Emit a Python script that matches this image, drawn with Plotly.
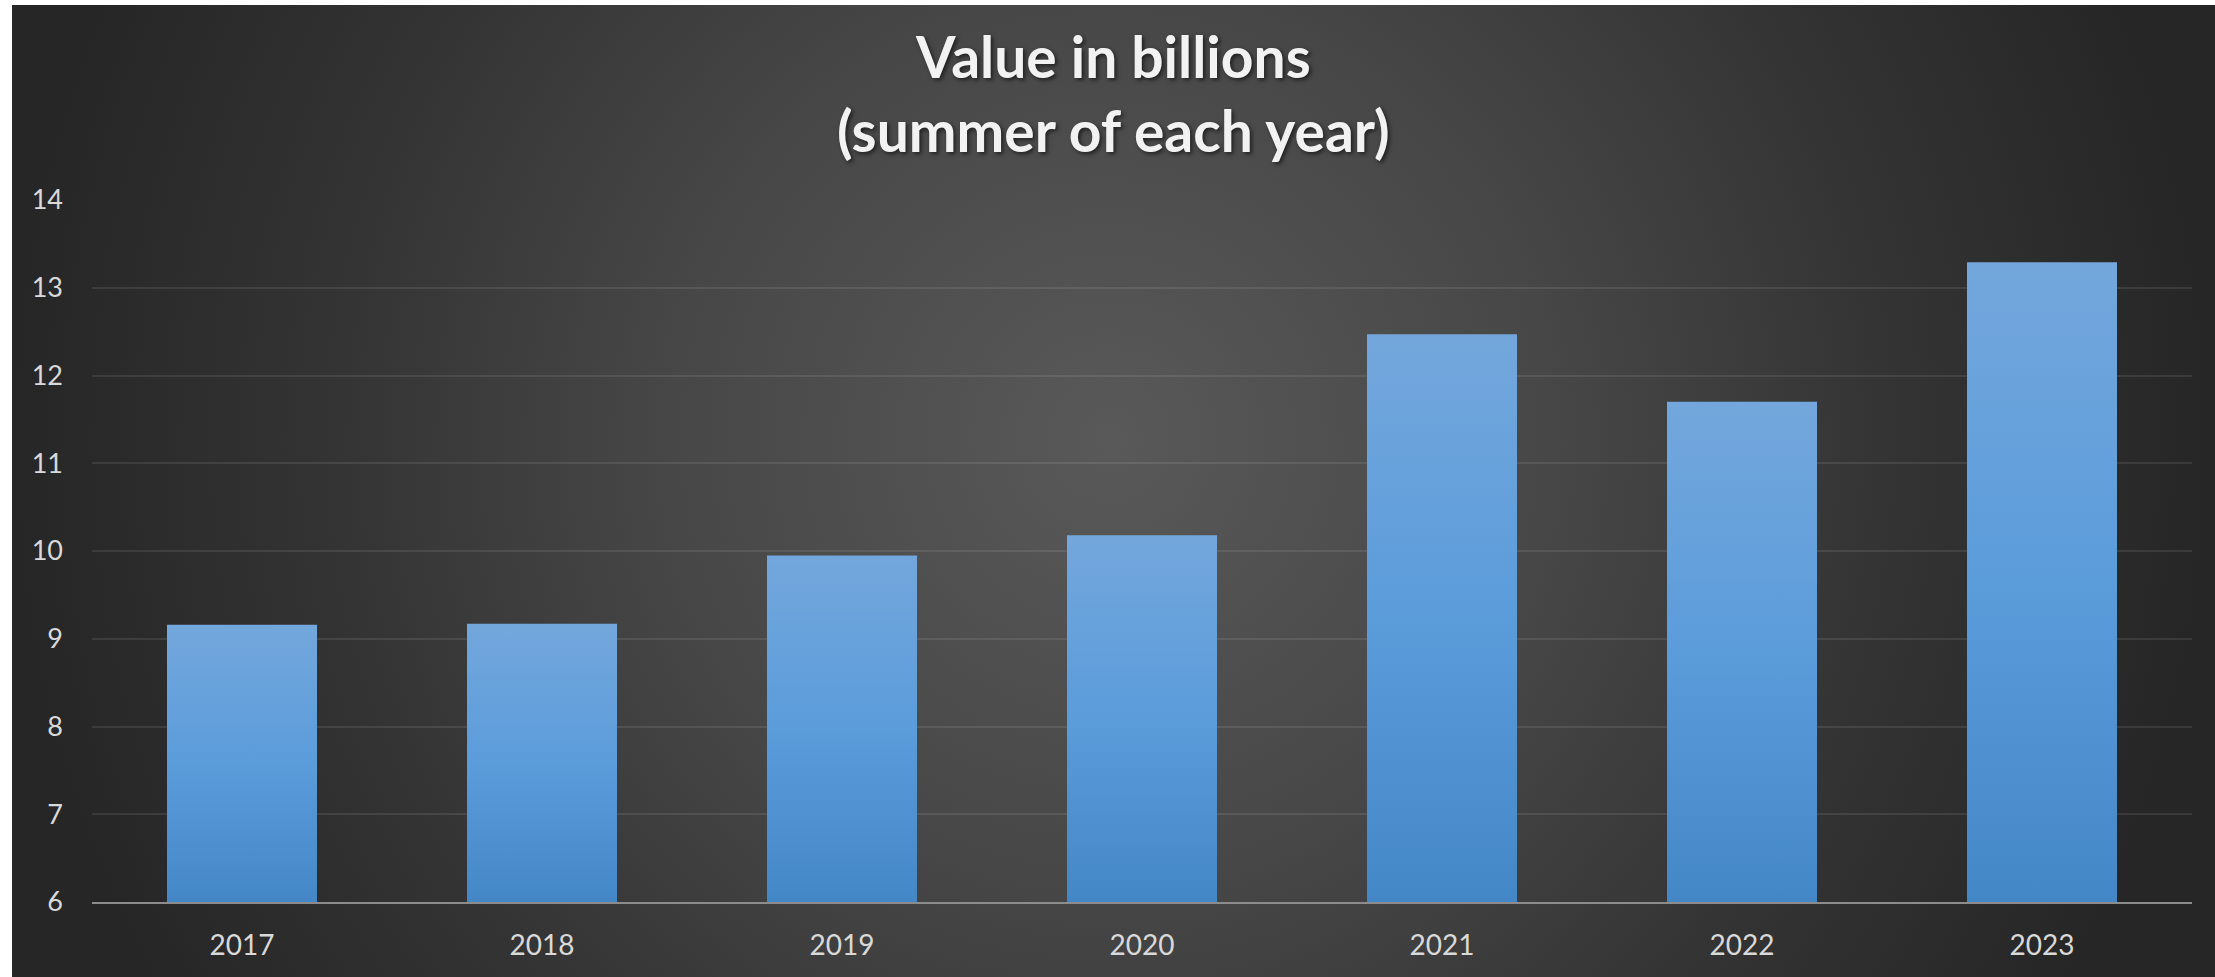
import base64
import plotly.graph_objects as go

# ---- data ----
years = ["2017", "2018", "2019", "2020", "2021", "2022", "2023"]
values = [9.16, 9.17, 9.95, 10.18, 12.47, 11.70, 13.29]
y_ticks = [6, 7, 8, 9, 10, 11, 12, 13, 14]
title_text = "Value in billions<br>(summer of each year)"

W, H = 2215, 977
ML, MR, MT, MB = 92, 23, 200, 75
PW, PH = W - ML - MR, H - MT - MB

FONT = "Lato"
BAR_HALF = 0.25

fig = go.Figure()

for i, (yr, v) in enumerate(zip(years, values)):
    x0, x1 = i - BAR_HALF, i + BAR_HALF
    fig.add_trace(go.Scatter(
        x=[x0, x0, x1, x1, x0],
        y=[y_ticks[0], v, v, y_ticks[0], y_ticks[0]],
        mode="lines",
        line=dict(width=0),
        fill="toself",
        fillgradient=dict(
            type="vertical",
            colorscale=[[0, "#4487c7"], [0.5, "#5b9cdb"], [1, "#73a7dc"]],
        ),
        hoverinfo="skip",
        showlegend=False,
    ))

# background radial gradient as an SVG image
bx0, by0 = 12, 5
bw, bh = W - bx0, H - by0
svg = f'''<svg xmlns="http://www.w3.org/2000/svg" width="{bw}" height="{bh}" viewBox="0 0 {bw} {bh}" preserveAspectRatio="none">
<defs><radialGradient id="g" gradientUnits="userSpaceOnUse" cx="1098" cy="435" r="1100">
<stop offset="0" stop-color="#595959"/>
<stop offset="0.4" stop-color="#474747"/>
<stop offset="0.72" stop-color="#333333"/>
<stop offset="1" stop-color="#262626"/>
</radialGradient></defs>
<rect x="0" y="0" width="{bw}" height="{bh}" fill="url(#g)"/></svg>'''
uri = "data:image/svg+xml;base64," + base64.b64encode(svg.encode()).decode()

fig.add_layout_image(dict(
    source=uri, xref="paper", yref="paper",
    x=(bx0 - ML) / PW, y=1 + (MT - by0) / PH,
    sizex=bw / PW, sizey=bh / PH,
    xanchor="left", yanchor="top", sizing="stretch", layer="below",
))

fig.add_annotation(
    text=title_text, xref="paper", yref="paper",
    x=(1113 - ML) / PW, y=1 + (MT - 93) / PH,
    xanchor="center", yanchor="middle", showarrow=False,
    align="center",
    font=dict(family=FONT, size=57, color="#f2f2f2", weight="bold",
              shadow="2px 2px 4px rgba(0,0,0,0.6)"),
)

fig.update_layout(
    width=W, height=H,
    margin=dict(l=ML, r=MR, t=MT, b=MB, pad=0),
    paper_bgcolor="white",
    plot_bgcolor="rgba(0,0,0,0)",
    showlegend=False,
    xaxis=dict(
        range=[-0.5, 6.5], tickmode="array",
        tickvals=list(range(len(years))), ticktext=years,
        showgrid=False, zeroline=False,
        showline=True, linecolor="#8c8c8c", linewidth=2,
        ticks="", ticklabelstandoff=17,
        tickfont=dict(family=FONT, size=28, color="#d9d9d9"),
        layer="below traces", fixedrange=True,
    ),
    yaxis=dict(
        range=[6, 14], tickmode="array", tickvals=y_ticks,
        showgrid=True, gridcolor="rgba(255,255,255,0.09)", gridwidth=2,
        zeroline=False, showline=False, ticks="",
        ticklabelstandoff=28,
        tickfont=dict(family=FONT, size=27, color="#d9d9d9"),
        layer="below traces", fixedrange=True,
    ),
)

fig.write_html("out.html")
